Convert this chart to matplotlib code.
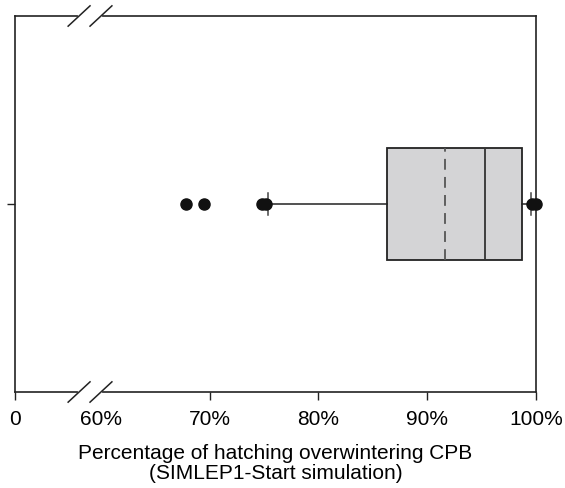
import numpy as np
import matplotlib
matplotlib.use("Agg")
import matplotlib.pyplot as plt

plt.rcParams['font.family'] = ['Liberation Sans', 'DejaVu Sans']

# box statistics (percent of hatching)
q1, med, q3 = 86.3, 95.3, 98.7
mean = 91.6
whislo, whishi = 75.4, 99.5
fliers = [67.8, 69.5, 74.8, 75.2, 99.6, 100.0]

tick_vals = [0, 60, 70, 80, 90, 100]
tick_labels = ['0', '60%', '70%', '80%', '90%', '100%']

# broken axis: squeeze 0..60 into a short stretch
gap = 7.9
def fwd(x):
    x = np.asarray(x, dtype=float)
    return np.where(x >= 60, x, (60 - gap) + x * gap / 60)

def inv(y):
    y = np.asarray(y, dtype=float)
    return np.where(y >= 60, y, (y - (60 - gap)) * 60 / gap)

fig = plt.figure(figsize=(5.65, 4.89), dpi=100)
ax = fig.add_axes([15/565, 1 - 393/489, 521/565, 376/489])
ax.set_xscale('function', functions=(fwd, inv))

stats = [dict(q1=q1, med=med, q3=q3, mean=mean, whislo=whislo, whishi=whishi,
              fliers=fliers)]
parts = ax.bxp(stats, positions=[1], widths=0.3, vert=False, patch_artist=True,
       showmeans=True, meanline=True, capwidths=0.06,
       boxprops=dict(facecolor='#d4d4d6', edgecolor='#222222', linewidth=1.3),
       medianprops=dict(color='#333333', linewidth=1.3),
       meanprops=dict(color='#555555', linewidth=1.3, linestyle=(0, (6, 4))),
       whiskerprops=dict(color='#222222', linewidth=1.1),
       capprops=dict(color='#444444', linewidth=1.1),
       flierprops=dict(marker='o', markerfacecolor='#111111',
                       markeredgecolor='#111111', markersize=8))
for f in parts['fliers']:
    f.set_clip_on(False)
    f.set_zorder(4)

ax.set_xlim(0, 100)
ax.set_ylim(0.5, 1.5)
ax.set_xticks(tick_vals)
ax.set_xticklabels(tick_labels, fontsize=15)
ax.set_yticks([1])
ax.set_yticklabels([''])
ax.tick_params(axis='both', direction='out', length=6, width=1, color='#222222')
ax.tick_params(axis='x', pad=6)
ax.xaxis.get_major_ticks()[1].tick1line.set_visible(False)
for s in ax.spines.values():
    s.set_linewidth(1.2)
    s.set_color('#222222')

# break marks on top and bottom spines
for yb in (0, 1):
    ax.plot([0.124, 0.164], [yb, yb], color='white', lw=3,
            transform=ax.transAxes, clip_on=False, zorder=5)
    for xc in (0.123, 0.165):
        ax.plot([xc - 0.021, xc + 0.021], [yb - 0.027, yb + 0.027],
                color='#222222', lw=1.1, transform=ax.transAxes,
                clip_on=False, zorder=6)

ax.set_xlabel('Percentage of hatching overwintering CPB\n(SIMLEP1-Start simulation)',
              fontsize=15, linespacing=1.05)
ax.xaxis.set_label_coords(0.5, -0.135)

fig.savefig('out.png', dpi=100)
